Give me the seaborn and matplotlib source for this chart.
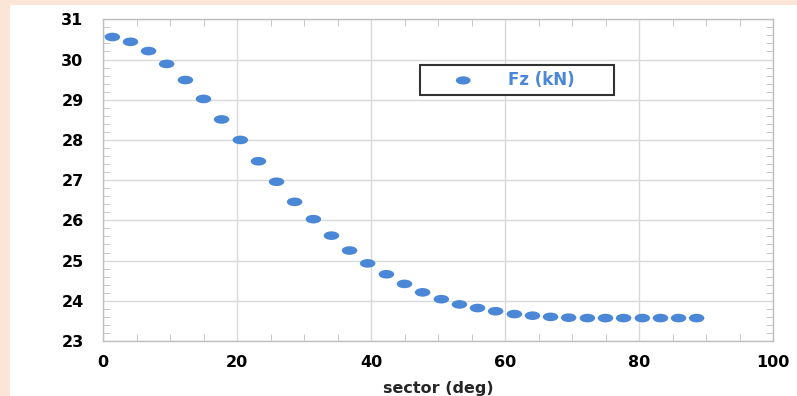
import numpy as np
import pandas as pd
import matplotlib
matplotlib.use('Agg')
import matplotlib.pyplot as plt
import seaborn as sns
from matplotlib.path import Path
from matplotlib.patches import Rectangle
from matplotlib.ticker import MultipleLocator

# sector centres (deg) and vertical force (kN)
sector_deg = [1.4, 4.1, 6.8, 9.5, 12.3, 15.0, 17.7, 20.5, 23.2, 25.9, 28.6,
              31.4, 34.1, 36.8, 39.5, 42.3, 45.0, 47.7, 50.5, 53.2, 55.9, 58.6,
              61.4, 64.1, 66.8, 69.5, 72.3, 75.0, 77.7, 80.5, 83.2, 85.9, 88.6]
fz_kn = [30.56, 30.44, 30.21, 29.89, 29.49, 29.02, 28.51, 28.00, 27.47, 26.96, 26.46,
         26.03, 25.62, 25.25, 24.93, 24.66, 24.42, 24.21, 24.04, 23.91, 23.82, 23.74,
         23.67, 23.63, 23.60, 23.58, 23.57, 23.57, 23.57, 23.57, 23.57, 23.57, 23.57]
x_ticks = [0, 20, 40, 60, 80, 100]
y_ticks = [23, 24, 25, 26, 27, 28, 29, 30, 31]

df = pd.DataFrame({'sector': sector_deg, 'Fz': fz_kn})

sns.set_style('white')
plt.rcParams['font.family'] = ['DejaVu Sans']

blue = '#4a87d6'
peach = '#fbe5d6'

fig = plt.figure(figsize=(7.97, 3.96), dpi=100, facecolor=peach)
# white card, peach only along the top and left edges
fig.add_artist(Rectangle((10 / 797, 0), 1, 1 - 5 / 396, transform=fig.transFigure,
                         facecolor='white', edgecolor='none', zorder=-10))
ax = fig.add_axes([103 / 797, 1 - 341 / 396, 670 / 797, (341 - 19.3) / 396])
ax.set_facecolor('white')

# elliptical marker (the picture is stretched sideways)
circ = Path.unit_circle()
ellipse = Path(circ.vertices * np.array([1.8, 1.0]), circ.codes)

sns.scatterplot(data=df, x='sector', y='Fz', ax=ax, marker=ellipse, s=125,
                color=blue, edgecolor='none', label='Fz (kN)', zorder=3)

ax.set_xlim(0, 100)
ax.set_ylim(23, 31)
ax.set_xticks(x_ticks)
ax.set_yticks(y_ticks)
ax.xaxis.set_minor_locator(MultipleLocator(5))
ax.yaxis.set_minor_locator(MultipleLocator(0.2))
ax.grid(True, which='major', color='#d9d9d9', linewidth=1)
ax.set_axisbelow(True)

for sp in ax.spines.values():
    sp.set_color('#bfbfbf')
    sp.set_linewidth(1)

ax.tick_params(which='major', length=0)
ax.tick_params(axis='x', which='major', pad=10, labelsize=11.5)
ax.tick_params(axis='y', which='major', pad=14, labelsize=11.5)
ax.tick_params(which='minor', direction='in', length=5, color='#bfbfbf',
               top=True, right=True, bottom=True, left=True)
for lab in ax.get_xticklabels() + ax.get_yticklabels():
    lab.set_fontweight('bold')
    lab.set_color('black')

ax.set_xlabel('sector (deg)', fontsize=11.5, fontweight='bold', labelpad=8)
ax.set_ylabel('')

leg = ax.legend(loc='upper left', bbox_to_anchor=(0.473, 0.858, 0.29, 0.0),
                mode='expand', frameon=True, fancybox=False, framealpha=1,
                borderpad=0.35, borderaxespad=0, handlelength=4.5,
                handletextpad=0.45, markerscale=0.95,
                prop={'weight': 'bold', 'size': 12})
leg.get_frame().set_edgecolor('#333333')
leg.get_frame().set_linewidth(1.5)
for t in leg.get_texts():
    t.set_color(blue)

fig.savefig('out.png', dpi=100, facecolor=fig.get_facecolor())
